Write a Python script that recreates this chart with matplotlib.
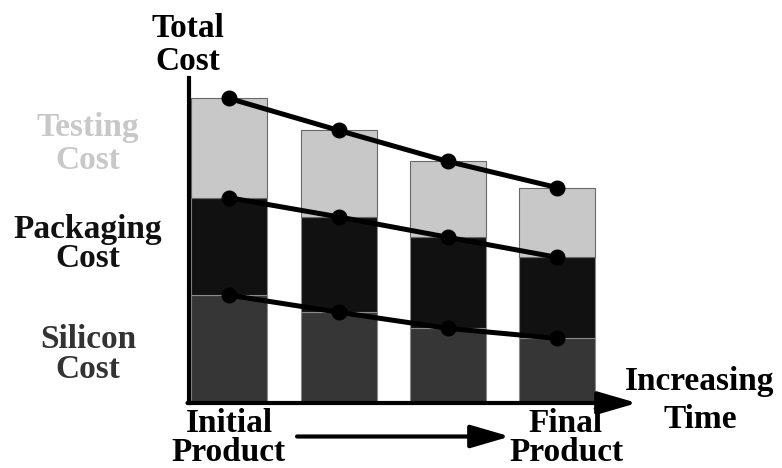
import matplotlib
matplotlib.use("Agg")
import matplotlib.pyplot as plt
from matplotlib.patches import FancyArrowPatch
import numpy as np

stages = ["Initial", "2", "3", "Final"]
silicon = [35.4, 29.8, 24.5, 21.2]
packaging = [32.0, 31.3, 29.9, 26.6]
testing = [32.6, 28.4, 24.9, 22.9]

W, H = 782, 468
fig = plt.figure(figsize=(W / 100, H / 100), dpi=100)
FONT = "Liberation Serif"

def fx(px):
    return px / W

def fy(py):
    return 1 - py / H

ax = fig.add_axes([fx(189), fy(403), fx(637) - fx(189), fy(78) - fy(403)])
x = np.arange(len(stages))
sil = np.array(silicon)
pkg = np.array(packaging)
tst = np.array(testing)

bw = 0.695
ax.bar(x, sil, bw, color="#363636", edgecolor="#8a8a8a", linewidth=0.8, zorder=2)
ax.bar(x, pkg, bw, bottom=sil, color="#111111", edgecolor="#8a8a8a", linewidth=0.8, zorder=2)
ax.bar(x, tst, bw, bottom=sil + pkg, color="#c8c8c8", edgecolor="#6a6a6a", linewidth=0.8, zorder=2)

for yv in (sil, sil + pkg, sil + pkg + tst):
    ax.plot(x, yv, color="black", linewidth=3.6, marker="o", markersize=10.5,
            markerfacecolor="black", markeredgecolor="black", zorder=3)

ax.set_xlim(-0.3675, 3.728)
ax.set_ylim(0, 106.7)
for s in ("top", "right", "bottom"):
    ax.spines[s].set_visible(False)
ax.spines["left"].set_linewidth(3)
ax.set_xticks([])
ax.set_yticks([])
ax.patch.set_alpha(0)

astyle = "-|>,head_length=2.4,head_width=0.7"
# x-axis arrow
fig.add_artist(FancyArrowPatch(
    (fx(187.5), fy(403)), (fx(637), fy(403)), transform=fig.transFigure,
    arrowstyle=astyle, mutation_scale=10, lw=3, color="black",
    shrinkA=0, shrinkB=0, zorder=4))
# time arrow between products
fig.add_artist(FancyArrowPatch(
    (fx(297), fy(436.5)), (fx(510), fy(436.5)), transform=fig.transFigure,
    arrowstyle=astyle, mutation_scale=10, lw=3, color="black",
    shrinkA=0, shrinkB=0))

fs = 24
kw = dict(fontsize=fs, fontweight="bold", family=FONT, ha="center", va="baseline")

def label(xc, lines, baselines, color):
    for t, b in zip(lines, baselines):
        fig.text(fx(xc), fy(b), t, color=color, **kw)

label(187.5, ["Total", "Cost"], [37, 70], "black")
label(88, ["Testing", "Cost"], [136, 169], "#c8c8c8")
label(88, ["Packaging", "Cost"], [238, 267], "#111111")
label(88, ["Silicon", "Cost"], [348, 378], "#333333")
label(700, ["Increasing", "Time"], [390, 428], "black")
label(229, ["Initial", "Product"], [432, 461], "black")
label(566, ["Final", "Product"], [432, 461], "black")

fig.savefig("out.png", dpi=100, facecolor="white")
